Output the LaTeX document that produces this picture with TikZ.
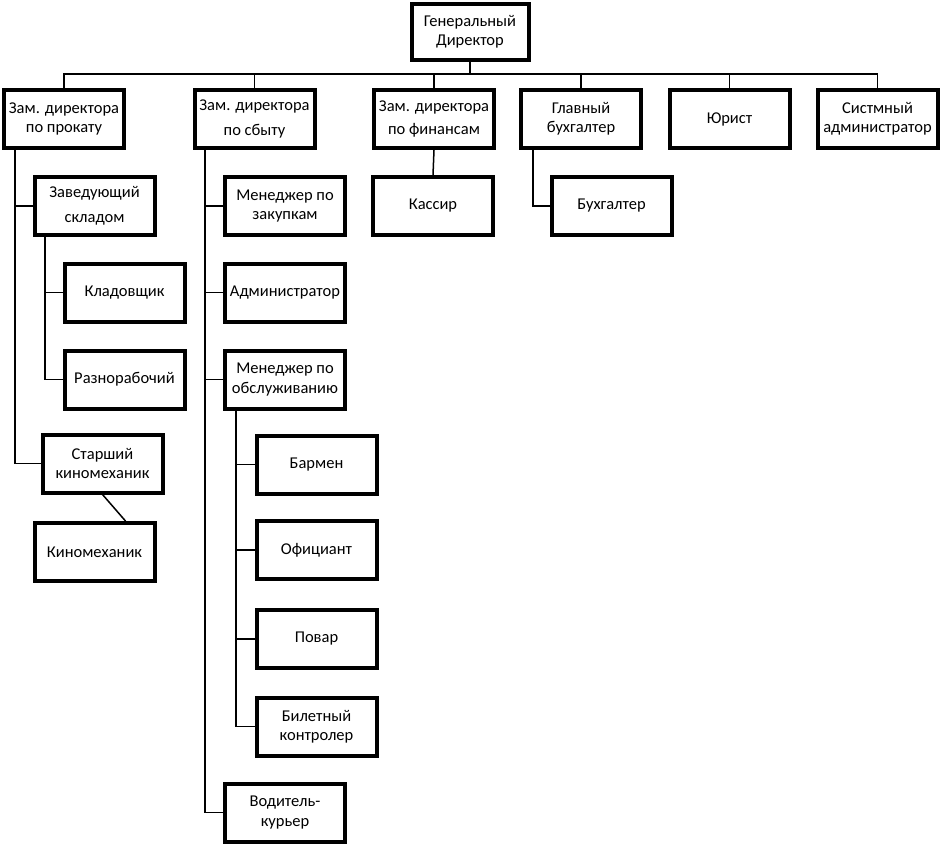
\documentclass[tikz,border=0pt]{standalone}
\usepackage{fontspec}
\setmainfont{Carlito}
\usetikzlibrary{positioning}

\begin{document}
\begin{tikzpicture}[
  x=1pt,
  y=-1pt,
  font=\fontsize{16.5}{19.5}\selectfont,
  post/.style={draw, line width=4pt, align=center, inner sep=2pt,
    minimum width=120pt, minimum height=58pt},
  link/.style={draw, line width=1.5pt}
]
  \useasboundingbox (0,0) rectangle (941,846);

  \node[post, minimum width=117pt, minimum height=56pt] (gendir) at (470,32) {Генеральный\\Директор};

  \node[post] (zprokat) at (64,119) {Зам. директора\\по прокату};
  \node[post] (zsbyt) at (254.5,119) {Зам. директора\\[5pt]по сбыту};
  \node[post] (zfin) at (434,119) {Зам. директора\\[3pt]по финансам};
  \node[post] (glbuh) at (581,119) {Главный\\бухгалтер};
  \node[post] (jurist) at (729.5,119) {Юрист};
  \node[post] (sysadm) at (877.5,119) {Систмный\\администратор};

  \node[post] (zavsklad) at (94.5,206) {Заведующий\\[5pt]складом};
  \node[post] (kladov) at (124.5,292.5) {Кладовщик};
  \node[post] (raznor) at (124.5,379.5) {Разнорабочий};
  \node[post] (stkino) at (102.5,463.5) {Старший\\киномеханик};
  \node[post] (kinomeh) at (94.5,552) {Киномеханик};

  \node[post] (menzak) at (285,206) {Менеджер по\\закупкам};
  \node[post] (admin) at (285,292.5) {Администратор};
  \node[post] (menobs) at (285,379.5) {Менеджер по\\обслуживанию};
  \node[post] (barmen) at (316.5,464.5) {Бармен};
  \node[post] (oficiant) at (316.5,550) {Официант};
  \node[post] (povar) at (316.5,639) {Повар};
  \node[post] (bilet) at (316.5,726.5) {Билетный\\контролер};
  \node[post] (voditel) at (285,812.5) {Водитель-\\курьер};

  \node[post] (kassir) at (433,206) {Кассир};
  \node[post] (buhg) at (611.5,206) {Бухгалтер};

  \coordinate (bus) at (0,74);
  \coordinate (tprokat) at (15,150);
  \coordinate (tsklad) at (45,237);
  \coordinate (tsbyt) at (205,150);
  \coordinate (tobs) at (236,410);
  \coordinate (tbuh) at (533,150);

  \draw[link] (gendir.south) -- (gendir.south |- bus);
  \draw[link] (zprokat.north) |- (bus -| sysadm.north) -- (sysadm.north);
  \foreach \n in {zsbyt,zfin,glbuh,jurist}
    \draw[link] (\n.north) -- (\n.north |- bus);

  \draw[link] (tprokat) |- (stkino.west);
  \draw[link] (tprokat |- zavsklad.west) -- (zavsklad.west);
  \draw[link] (tsklad) |- (raznor.west);
  \draw[link] (tsklad |- kladov.west) -- (kladov.west);
  \draw[link] (stkino.south) -- ([xshift=31pt]kinomeh.north);

  \draw[link] (tsbyt) |- (voditel.west);
  \foreach \n in {menzak,admin,menobs}
    \draw[link] (tsbyt |- \n.west) -- (\n.west);
  \draw[link] (tobs) |- (bilet.west);
  \foreach \n in {barmen,oficiant,povar}
    \draw[link] (tobs |- \n.west) -- (\n.west);

  \draw[link] (zfin.south) -- (kassir.north);
  \draw[link] (tbuh) |- (buhg.west);
\end{tikzpicture}
\end{document}
